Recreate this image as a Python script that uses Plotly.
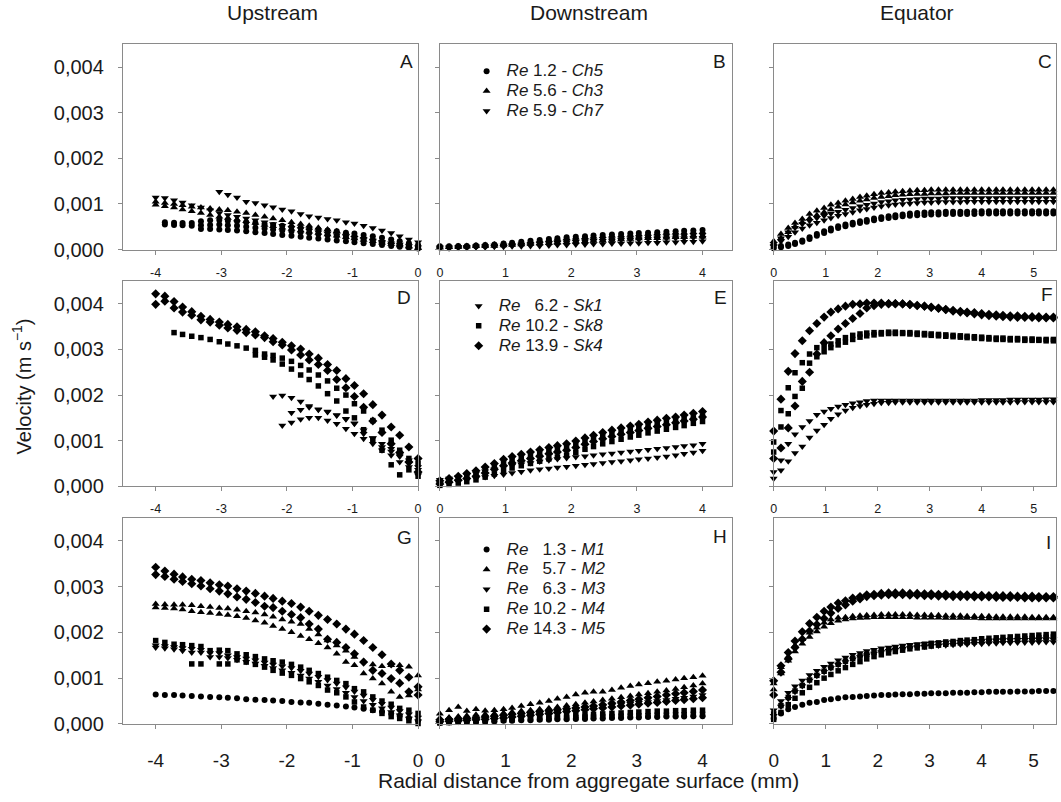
import plotly.graph_objects as go

# ---------------- x grids (mm) ----------------
X_UP = [-4.00, -3.86, -3.72, -3.59, -3.45, -3.31, -3.17, -3.03, -2.90, -2.76,
        -2.62, -2.48, -2.34, -2.21, -2.07, -1.93, -1.79, -1.66, -1.52, -1.38,
        -1.24, -1.10, -0.97, -0.83, -0.69, -0.55, -0.41, -0.28, -0.14, 0.00]
X_DN = [0.00, 0.14, 0.28, 0.41, 0.55, 0.69, 0.83, 0.97, 1.10, 1.24,
        1.38, 1.52, 1.66, 1.79, 1.93, 2.07, 2.21, 2.34, 2.48, 2.62,
        2.76, 2.90, 3.03, 3.17, 3.31, 3.45, 3.59, 3.72, 3.86, 4.00]
X_EQ = [0.00, 0.14, 0.28, 0.41, 0.55, 0.69, 0.83, 0.97, 1.10, 1.24,
        1.38, 1.52, 1.66, 1.79, 1.93, 2.07, 2.21, 2.34, 2.48, 2.62,
        2.76, 2.90, 3.03, 3.17, 3.31, 3.45, 3.59, 3.72, 3.86, 4.00,
        4.14, 4.28, 4.41, 4.55, 4.69, 4.83, 4.97, 5.10, 5.24, 5.38]

# ---------------- velocities (x 0.001 m/s) ----------------
# Panel A (upstream, Ch)
A_CH5_1 = [None, 0.60, 0.59, 0.58, 0.58, 0.62, 0.64, 0.65, 0.63, 0.62, 0.60, 0.58, 0.56, 0.54, 0.52,
           0.50, 0.48, 0.46, 0.44, 0.42, 0.40, 0.37, 0.35, 0.32, 0.29, 0.26, 0.22, 0.18, 0.14, 0.10]
A_CH5_2 = [None, 0.55, 0.54, 0.53, 0.52, 0.53, 0.54, 0.55, 0.53, 0.52, 0.50, 0.48, 0.46, 0.44, 0.42,
           0.40, 0.38, 0.36, 0.34, 0.32, 0.30, 0.27, 0.25, 0.22, 0.19, 0.16, 0.13, 0.10, 0.07, 0.05]
A_CH5_3 = [None, None, None, None, None, 0.45, 0.45, 0.44, 0.43, 0.42, 0.40, 0.38, 0.36, 0.34, 0.32,
           0.30, 0.28, 0.26, 0.24, 0.22, 0.20, 0.18, 0.16, 0.14, 0.12, 0.10, 0.08, 0.06, 0.04, 0.02]
A_CH3_1 = [1.05, 1.02, 1.00, 0.97, 0.94, 0.92, 0.90, 0.88, 0.86, 0.83, 0.80, 0.76, 0.72, 0.68, 0.64,
           0.60, 0.56, 0.52, 0.48, 0.44, 0.40, 0.36, 0.32, 0.28, 0.24, 0.20, 0.16, 0.12, 0.08, 0.04]
A_CH3_2 = [0.98, 0.95, 0.92, 0.88, 0.84, 0.80, 0.76, 0.72, 0.69, 0.66, 0.62, 0.58, 0.54, 0.51, 0.48,
           0.45, 0.42, 0.39, 0.36, 0.33, 0.30, 0.27, 0.24, 0.21, 0.18, 0.15, 0.12, 0.09, 0.06, 0.03]
A_CH7_1 = [None, None, None, None, None, None, None, 1.27, 1.20, 1.14, 1.05, 1.02, 0.97, 0.93, 0.88,
           0.84, 0.78, 0.73, 0.70, 0.67, 0.64, 0.60, 0.57, 0.52, 0.47, 0.42, 0.36, 0.29, 0.22, 0.16]
A_CH7_2 = [1.14, 1.13, 1.08, 1.03, 0.97, 0.92, 0.86, 0.80, 0.76, 0.72, 0.68, 0.64, 0.60, 0.56, 0.52,
           0.48, 0.45, 0.42, 0.38, 0.35, 0.32, 0.29, 0.26, 0.23, 0.20, 0.17, 0.14, 0.11, 0.08, 0.05]

# Panel B (downstream, Ch)
B_CH5_1 = [0.07, 0.07, 0.08, 0.08, 0.09, 0.10, 0.11, 0.13, 0.15, 0.17, 0.19, 0.21, 0.23, 0.25, 0.27,
           0.28, 0.29, 0.31, 0.32, 0.33, 0.34, 0.35, 0.36, 0.37, 0.38, 0.39, 0.40, 0.41, 0.42, 0.43]
B_CH5_2 = [0.05, 0.05, 0.06, 0.06, 0.07, 0.08, 0.09, 0.10, 0.11, 0.12, 0.14, 0.15, 0.17, 0.18, 0.19,
           0.20, 0.21, 0.22, 0.23, 0.24, 0.25, 0.26, 0.27, 0.28, 0.29, 0.30, 0.31, 0.32, 0.33, 0.34]
B_CH3_1 = [0.06, 0.06, 0.07, 0.08, 0.09, 0.10, 0.11, 0.12, 0.13, 0.15, 0.17, 0.19, 0.21, 0.23, 0.25,
           0.26, 0.27, 0.28, 0.29, 0.30, 0.31, 0.32, 0.33, 0.34, 0.35, 0.36, 0.37, 0.37, 0.38, 0.38]
B_CH3_2 = [0.04, 0.05, 0.05, 0.06, 0.07, 0.07, 0.08, 0.09, 0.10, 0.11, 0.12, 0.13, 0.14, 0.15, 0.16,
           0.17, 0.18, 0.19, 0.20, 0.21, 0.22, 0.23, 0.24, 0.25, 0.25, 0.26, 0.27, 0.27, 0.28, 0.28]
B_CH7_1 = [0.05, 0.05, 0.06, 0.06, 0.07, 0.08, 0.09, 0.09, 0.10, 0.11, 0.12, 0.13, 0.14, 0.15, 0.16,
           0.17, 0.18, 0.19, 0.19, 0.20, 0.21, 0.22, 0.22, 0.23, 0.24, 0.24, 0.25, 0.25, 0.26, 0.26]
B_CH7_2 = [0.03, 0.03, 0.04, 0.04, 0.05, 0.05, 0.06, 0.06, 0.07, 0.07, 0.08, 0.08, 0.09, 0.10, 0.10,
           0.11, 0.11, 0.12, 0.12, 0.13, 0.13, 0.14, 0.14, 0.15, 0.15, 0.16, 0.16, 0.17, 0.17, 0.18]

# Panel C (equator, Ch)
C_CH3_1 = [0.18, 0.34, 0.47, 0.58, 0.67, 0.78, 0.85, 0.91, 0.98, 1.02, 1.07, 1.11, 1.15, 1.18, 1.21,
           1.24, 1.25, 1.27, 1.28, 1.29, 1.30, 1.30, 1.31, 1.31, 1.31, 1.31, 1.31, 1.31, 1.31, 1.31,
           1.31, 1.31, 1.31, 1.31, 1.31, 1.31, 1.31, 1.31, 1.31, 1.31]
C_CH3_2 = [0.12, 0.25, 0.38, 0.50, 0.60, 0.68, 0.75, 0.82, 0.88, 0.94, 0.99, 1.03, 1.07, 1.10, 1.13,
           1.15, 1.17, 1.19, 1.20, 1.21, 1.22, 1.22, 1.23, 1.23, 1.23, 1.24, 1.24, 1.24, 1.24, 1.24,
           1.24, 1.24, 1.24, 1.24, 1.24, 1.24, 1.24, 1.24, 1.24, 1.24]
C_CH7_1 = [0.12, 0.25, 0.38, 0.48, 0.56, 0.63, 0.69, 0.74, 0.79, 0.83, 0.87, 0.91, 0.95, 0.98, 1.01,
           1.04, 1.06, 1.08, 1.09, 1.10, 1.11, 1.12, 1.12, 1.12, 1.13, 1.13, 1.13, 1.13, 1.13, 1.13,
           1.13, 1.13, 1.13, 1.13, 1.13, 1.13, 1.13, 1.13, 1.13, 1.13]
C_CH7_2 = [0.08, 0.18, 0.28, 0.38, 0.46, 0.53, 0.59, 0.64, 0.69, 0.74, 0.78, 0.82, 0.86, 0.89, 0.92,
           0.95, 0.97, 0.99, 1.00, 1.01, 1.02, 1.03, 1.03, 1.04, 1.04, 1.04, 1.04, 1.05, 1.05, 1.05,
           1.05, 1.05, 1.05, 1.05, 1.05, 1.05, 1.05, 1.05, 1.05, 1.05]
C_CH5_1 = [0.06, 0.08, 0.11, 0.15, 0.20, 0.27, 0.34, 0.40, 0.46, 0.51, 0.55, 0.59, 0.62, 0.65, 0.68,
           0.71, 0.73, 0.75, 0.77, 0.79, 0.80, 0.81, 0.82, 0.82, 0.83, 0.83, 0.83, 0.83, 0.84, 0.84,
           0.84, 0.84, 0.84, 0.84, 0.84, 0.84, 0.84, 0.84, 0.84, 0.84]
C_CH5_2 = [0.03, 0.05, 0.08, 0.12, 0.17, 0.23, 0.30, 0.36, 0.42, 0.47, 0.51, 0.55, 0.58, 0.61, 0.64,
           0.67, 0.69, 0.71, 0.73, 0.74, 0.75, 0.76, 0.77, 0.77, 0.78, 0.78, 0.78, 0.78, 0.78, 0.79,
           0.79, 0.79, 0.79, 0.79, 0.79, 0.79, 0.79, 0.79, 0.79, 0.79]

# Panel D (upstream, Sk)
D_SK4_1 = [4.22, 4.17, 4.05, 3.93, 3.83, 3.73, 3.66, 3.60, 3.55, 3.50, 3.44, 3.39, 3.30, 3.24, 3.16,
           3.08, 3.01, 2.90, 2.81, 2.67, 2.54, 2.36, 2.21, 2.03, 1.79, 1.56, 1.30, 1.12, 0.86, 0.61]
D_SK4_2 = [3.99, 4.06, 3.91, 3.82, 3.75, 3.65, 3.60, 3.53, 3.47, 3.42, 3.37, 3.32, 3.26, 3.17, 3.10,
           2.99, 2.88, 2.77, 2.67, 2.54, 2.34, 2.16, 1.97, 1.73, 1.43, 1.18, 0.93, 0.74, 0.53, 0.31]
D_SK8_1 = [None, None, 3.37, 3.33, 3.29, 3.26, 3.22, 3.17, 3.12, 3.08, 3.03, 2.98, 2.90, 2.87, 2.81,
           2.74, 2.65, 2.55, 2.44, 2.31, 2.15, 2.00, 1.81, 1.65, 1.44, 1.23, 1.01, 0.79, 0.61, 0.50]
D_SK8_2 = [None, None, None, None, None, None, None, None, None, None, None, 2.88, 2.83, 2.77, 2.68,
           2.57, 2.44, 2.34, 2.20, 2.03, 1.87, 1.65, 1.50, 1.24, 1.01, 0.79, 0.47, 0.25, 0.36, 0.22]
D_SK1_1 = [None, None, None, None, None, None, None, None, None, None, None, None, None, 1.97, 1.99,
           1.94, 1.86, 1.76, 1.69, 1.64, 1.55, 1.48, 1.38, 1.23, 1.05, 0.86, 0.76, 0.65, 0.50, 0.36]
D_SK1_2 = [None, None, None, None, None, None, None, None, None, None, None, None, None, None, None,
           1.61, 1.68, 1.73, 1.68, 1.63, 1.56, 1.47, 1.37, 1.15, 1.06, 0.93, 0.82, 0.68, 0.57, 0.42]
D_SK1_3 = [None, None, None, None, None, None, None, None, None, None, None, None, None, None, 1.33,
           1.40, 1.47, 1.50, 1.50, 1.44, 1.37, 1.26, 1.15, 1.04, 0.93, 0.79, 0.68, 0.53, 0.42, 0.24]

# Panel E (downstream, Sk)
E_SK4_1 = [0.12, 0.17, 0.22, 0.28, 0.34, 0.42, 0.50, 0.59, 0.65, 0.70, 0.75, 0.80, 0.85, 0.89, 0.93,
           0.99, 1.06, 1.12, 1.18, 1.23, 1.28, 1.32, 1.36, 1.41, 1.45, 1.49, 1.52, 1.56, 1.60, 1.64]
E_SK4_2 = [0.05, 0.09, 0.13, 0.17, 0.22, 0.29, 0.37, 0.45, 0.51, 0.56, 0.61, 0.66, 0.71, 0.75, 0.79,
           0.85, 0.92, 0.98, 1.04, 1.09, 1.14, 1.18, 1.22, 1.27, 1.31, 1.35, 1.39, 1.43, 1.47, 1.52]
E_SK8_1 = [0.09, 0.13, 0.17, 0.22, 0.27, 0.34, 0.42, 0.50, 0.56, 0.61, 0.66, 0.71, 0.76, 0.80, 0.84,
           0.90, 0.97, 1.03, 1.09, 1.14, 1.19, 1.23, 1.27, 1.32, 1.36, 1.40, 1.43, 1.46, 1.50, 1.54]
E_SK8_2 = [0.02, 0.04, 0.07, 0.10, 0.14, 0.20, 0.27, 0.34, 0.40, 0.45, 0.50, 0.55, 0.60, 0.64, 0.68,
           0.74, 0.81, 0.87, 0.93, 0.98, 1.03, 1.08, 1.12, 1.17, 1.21, 1.25, 1.29, 1.33, 1.38, 1.42]
E_SK1_1 = [0.14, 0.17, 0.20, 0.24, 0.28, 0.33, 0.37, 0.41, 0.45, 0.48, 0.51, 0.54, 0.57, 0.60, 0.62,
           0.64, 0.66, 0.68, 0.70, 0.72, 0.74, 0.76, 0.78, 0.80, 0.82, 0.84, 0.86, 0.88, 0.90, 0.93]
E_SK1_2 = [0.05, 0.08, 0.11, 0.14, 0.17, 0.20, 0.23, 0.26, 0.29, 0.32, 0.35, 0.37, 0.39, 0.41, 0.43,
           0.45, 0.47, 0.49, 0.51, 0.53, 0.55, 0.57, 0.59, 0.61, 0.63, 0.65, 0.68, 0.71, 0.74, 0.78]

# Panel F (equator, Sk)
F_SK4_1 = [1.21, 1.91, 2.52, 2.91, 3.19, 3.41, 3.57, 3.71, 3.82, 3.89, 3.95, 3.99, 4.00, 4.02, 4.02,
           4.02, 4.01, 4.01, 4.00, 3.98, 3.96, 3.95, 3.93, 3.91, 3.88, 3.86, 3.84, 3.82, 3.81, 3.79,
           3.77, 3.76, 3.75, 3.74, 3.74, 3.73, 3.72, 3.72, 3.71, 3.71]
F_SK4_2 = [0.61, 0.84, 1.28, 1.76, 2.30, 2.50, 2.90, 3.15, 3.30, 3.45, 3.57, 3.68, 3.79, 3.91, 3.96,
           3.99, 4.00, 4.00, 4.00, 3.99, 3.97, 3.95, 3.92, 3.90, 3.87, 3.84, 3.82, 3.80, 3.78, 3.76,
           3.74, 3.73, 3.72, 3.71, 3.70, 3.70, 3.70, 3.69, 3.69, 3.69]
F_SK8_1 = [0.97, 1.66, 2.16, 2.49, 2.71, 2.90, 3.04, 3.07, 3.12, 3.19, 3.26, 3.31, 3.34, 3.36, 3.37,
           3.37, 3.38, 3.38, 3.37, 3.37, 3.36, 3.35, 3.34, 3.33, 3.32, 3.31, 3.30, 3.29, 3.28, 3.27,
           3.26, 3.25, 3.25, 3.24, 3.24, 3.23, 3.23, 3.22, 3.22, 3.22]
F_SK8_2 = [0.75, 1.30, 1.59, 1.97, 2.15, 2.70, 2.84, 2.95, 3.04, 3.10, 3.16, 3.22, 3.27, 3.30, 3.32,
           3.34, 3.35, 3.35, 3.35, 3.34, 3.33, 3.32, 3.31, 3.30, 3.29, 3.28, 3.27, 3.26, 3.25, 3.24,
           3.23, 3.22, 3.22, 3.21, 3.21, 3.20, 3.20, 3.20, 3.19, 3.19]
F_SK1_1 = [0.31, 0.57, 0.93, 1.14, 1.30, 1.43, 1.57, 1.64, 1.70, 1.75, 1.79, 1.82, 1.84, 1.87, 1.88,
           1.88, 1.88, 1.88, 1.88, 1.88, 1.88, 1.88, 1.88, 1.88, 1.88, 1.88, 1.88, 1.88, 1.88, 1.89,
           1.89, 1.89, 1.89, 1.90, 1.90, 1.90, 1.90, 1.90, 1.91, 1.91]
F_SK1_2 = [0.17, 0.35, 0.55, 0.73, 0.87, 1.07, 1.22, 1.35, 1.48, 1.58, 1.66, 1.72, 1.76, 1.79, 1.81,
           1.83, 1.83, 1.84, 1.84, 1.84, 1.84, 1.84, 1.84, 1.84, 1.84, 1.84, 1.84, 1.84, 1.84, 1.84,
           1.84, 1.84, 1.84, 1.84, 1.85, 1.85, 1.85, 1.85, 1.85, 1.85]

# Panel G (upstream, M)
G_M5_1 = [3.42, 3.34, 3.27, 3.21, 3.16, 3.13, 3.08, 3.04, 3.01, 2.95, 2.90, 2.85, 2.79, 2.74, 2.68,
          2.63, 2.55, 2.46, 2.37, 2.28, 2.18, 2.07, 1.96, 1.82, 1.67, 1.51, 1.31, 1.17, 1.02, 0.81]
G_M5_2 = [3.26, 3.22, 3.16, 3.11, 3.06, 3.01, 2.95, 2.90, 2.84, 2.77, 2.72, 2.65, 2.57, 2.54, 2.46,
          2.39, 2.32, 2.18, 2.07, 1.85, 1.78, 1.67, 1.53, 1.35, 1.17, 1.10, 0.99, 0.89, 0.70, 0.63]
G_M2_1 = [2.62, 2.61, 2.60, 2.60, 2.59, 2.57, 2.55, 2.53, 2.52, 2.49, 2.46, 2.43, 2.39, 2.34, 2.28,
          2.23, 2.18, 2.07, 1.95, 1.82, 1.71, 1.60, 1.46, 1.37, 1.30, 1.26, 1.28, 1.28, 1.25, 1.06]
G_M2_2 = [2.54, 2.53, 2.52, 2.50, 2.46, 2.44, 2.42, 2.40, 2.38, 2.35, 2.31, 2.26, 2.21, 2.14, 2.07,
          2.00, 1.92, 1.85, 1.76, 1.67, 1.53, 1.35, 1.28, 1.10, 0.99, 0.88, 0.70, 0.59, 0.62, 0.75]
G_M4_1 = [1.82, 1.78, 1.74, 1.73, 1.71, 1.69, 1.60, 1.61, 1.60, 1.53, 1.51, 1.47, 1.42, 1.38, 1.35,
          1.30, 1.24, 1.17, 1.10, 1.02, 0.95, 0.88, 0.77, 0.70, 0.59, 0.50, 0.43, 0.34, 0.30, 0.23]
G_M4_2 = [None, None, None, None, 1.31, 1.31, None, 1.31, 1.31, 1.40, 1.35, 1.30, 1.24, 1.17, 1.11,
          1.06, 0.99, 0.92, 0.84, 0.74, 0.68, 0.59, 0.48, 0.37, 0.30, 0.23, 0.16, 0.12, 0.07, 0.01]
G_M3_1 = [1.72, 1.70, 1.68, 1.66, 1.64, 1.62, 1.55, 1.55, 1.50, 1.46, 1.43, 1.39, 1.34, 1.30, 1.26,
          1.22, 1.16, 1.10, 1.03, 0.96, 0.88, 0.80, 0.71, 0.62, 0.53, 0.44, 0.36, 0.28, 0.21, 0.14]
G_M3_2 = [1.67, 1.65, 1.63, 1.60, 1.56, 1.56, 1.46, 1.46, 1.44, 1.40, 1.36, 1.32, 1.27, 1.22, 1.17,
          1.12, 1.06, 0.99, 0.92, 0.84, 0.76, 0.68, 0.59, 0.50, 0.42, 0.34, 0.26, 0.19, 0.12, 0.06]
G_M1_1 = [0.64, 0.63, 0.63, 0.62, 0.61, 0.60, 0.59, 0.58, 0.57, 0.56, 0.54, 0.53, 0.52, 0.51, 0.50,
          0.48, 0.47, 0.46, 0.44, 0.42, 0.40, 0.38, 0.36, 0.33, 0.30, 0.27, 0.23, 0.18, 0.13, 0.08]

# Panel H (downstream, M)
H_M2_1 = [0.22, 0.30, 0.37, 0.28, 0.32, 0.29, 0.30, 0.32, 0.35, 0.39, 0.43, 0.46, 0.50, 0.55, 0.59,
          0.64, 0.68, 0.70, 0.70, 0.74, 0.79, 0.83, 0.86, 0.89, 0.92, 0.94, 0.97, 1.00, 1.02, 1.05]
H_M2_2 = [0.12, 0.14, 0.16, 0.18, 0.20, 0.21, 0.22, 0.24, 0.26, 0.28, 0.30, 0.32, 0.34, 0.37, 0.40,
          0.43, 0.46, 0.49, 0.52, 0.55, 0.58, 0.61, 0.64, 0.67, 0.70, 0.73, 0.76, 0.80, 0.84, 0.88]
H_M5_1 = [0.09, 0.10, 0.11, 0.12, 0.13, 0.15, 0.17, 0.19, 0.21, 0.23, 0.25, 0.27, 0.29, 0.31, 0.33,
          0.35, 0.37, 0.39, 0.42, 0.45, 0.48, 0.51, 0.54, 0.57, 0.60, 0.63, 0.66, 0.68, 0.71, 0.74]
H_M5_2 = [0.05, 0.06, 0.07, 0.08, 0.09, 0.10, 0.12, 0.13, 0.15, 0.17, 0.19, 0.21, 0.23, 0.25, 0.27,
          0.29, 0.31, 0.33, 0.35, 0.37, 0.39, 0.41, 0.43, 0.45, 0.47, 0.49, 0.51, 0.53, 0.55, 0.57]
H_M3_1 = [0.07, 0.08, 0.09, 0.10, 0.12, 0.13, 0.15, 0.16, 0.18, 0.20, 0.22, 0.24, 0.26, 0.28, 0.30,
          0.32, 0.34, 0.36, 0.38, 0.40, 0.42, 0.44, 0.46, 0.48, 0.50, 0.52, 0.55, 0.57, 0.60, 0.63]
H_M4_1 = [0.04, 0.05, 0.06, 0.07, 0.08, 0.09, 0.10, 0.11, 0.12, 0.13, 0.14, 0.15, 0.16, 0.17, 0.18,
          0.19, 0.20, 0.21, 0.22, 0.23, 0.24, 0.25, 0.26, 0.27, 0.28, 0.28, 0.29, 0.29, 0.30, 0.30]
H_M4_2 = [0.02, 0.03, 0.04, 0.05, 0.06, 0.06, 0.07, 0.08, 0.09, 0.10, 0.10, 0.11, 0.12, 0.13, 0.13,
          0.14, 0.15, 0.15, 0.16, 0.16, 0.17, 0.17, 0.18, 0.18, 0.19, 0.19, 0.20, 0.20, 0.21, 0.21]
H_M1_1 = [0.03, 0.04, 0.04, 0.05, 0.05, 0.06, 0.06, 0.07, 0.07, 0.08, 0.08, 0.09, 0.09, 0.10, 0.10,
          0.11, 0.11, 0.12, 0.12, 0.13, 0.13, 0.14, 0.14, 0.15, 0.15, 0.16, 0.16, 0.16, 0.17, 0.17]

# Panel I (equator, M)
I_M5_1 = [0.94, 1.27, 1.56, 1.81, 2.01, 2.19, 2.33, 2.46, 2.55, 2.64, 2.69, 2.75, 2.78, 2.82, 2.83,
          2.85, 2.86, 2.86, 2.86, 2.85, 2.85, 2.84, 2.84, 2.83, 2.83, 2.82, 2.82, 2.82, 2.81, 2.81,
          2.80, 2.80, 2.80, 2.80, 2.79, 2.79, 2.79, 2.78, 2.78, 2.78]
I_M5_2 = [0.63, 1.13, 1.42, 1.67, 1.85, 2.03, 2.17, 2.30, 2.42, 2.52, 2.60, 2.68, 2.73, 2.78, 2.80,
          2.81, 2.82, 2.82, 2.82, 2.81, 2.81, 2.80, 2.80, 2.79, 2.79, 2.78, 2.78, 2.78, 2.77, 2.77,
          2.77, 2.76, 2.76, 2.76, 2.76, 2.75, 2.75, 2.75, 2.75, 2.75]
I_M2_1 = [0.88, 1.24, 1.47, 1.71, 1.85, 1.99, 2.10, 2.21, 2.28, 2.32, 2.33, 2.35, 2.36, 2.37, 2.38,
          2.39, 2.39, 2.39, 2.39, 2.39, 2.38, 2.38, 2.37, 2.37, 2.36, 2.36, 2.36, 2.35, 2.35, 2.35,
          2.35, 2.34, 2.34, 2.34, 2.34, 2.34, 2.33, 2.33, 2.33, 2.33]
I_M2_2 = [0.75, 1.10, 1.38, 1.58, 1.75, 1.90, 2.02, 2.12, 2.20, 2.25, 2.28, 2.30, 2.31, 2.32, 2.33,
          2.33, 2.33, 2.33, 2.33, 2.33, 2.32, 2.32, 2.32, 2.32, 2.31, 2.31, 2.31, 2.31, 2.31, 2.30,
          2.30, 2.30, 2.30, 2.30, 2.30, 2.30, 2.30, 2.30, 2.30, 2.30]
I_M4_1 = [0.22, 0.40, 0.58, 0.72, 0.84, 0.96, 1.06, 1.15, 1.23, 1.30, 1.37, 1.43, 1.48, 1.52, 1.56,
          1.60, 1.63, 1.66, 1.68, 1.70, 1.72, 1.74, 1.76, 1.77, 1.79, 1.80, 1.82, 1.83, 1.84, 1.86,
          1.87, 1.88, 1.89, 1.90, 1.91, 1.92, 1.93, 1.94, 1.95, 1.96]
I_M4_2 = [0.10, 0.25, 0.42, 0.56, 0.68, 0.80, 0.90, 1.00, 1.08, 1.16, 1.23, 1.30, 1.36, 1.42, 1.47,
          1.51, 1.55, 1.58, 1.61, 1.64, 1.66, 1.68, 1.70, 1.72, 1.74, 1.75, 1.77, 1.78, 1.79, 1.80,
          1.81, 1.82, 1.83, 1.84, 1.85, 1.86, 1.87, 1.88, 1.89, 1.90]
I_M3_1 = [0.30, 0.50, 0.68, 0.82, 0.95, 1.07, 1.16, 1.25, 1.32, 1.39, 1.45, 1.51, 1.55, 1.59, 1.62,
          1.65, 1.67, 1.69, 1.71, 1.73, 1.74, 1.75, 1.76, 1.77, 1.78, 1.79, 1.80, 1.80, 1.81, 1.81,
          1.82, 1.82, 1.83, 1.83, 1.84, 1.84, 1.84, 1.85, 1.85, 1.85]
I_M3_2 = [0.18, 0.38, 0.55, 0.70, 0.83, 0.95, 1.05, 1.14, 1.22, 1.29, 1.35, 1.41, 1.46, 1.50, 1.54,
          1.57, 1.60, 1.62, 1.64, 1.66, 1.68, 1.69, 1.70, 1.71, 1.72, 1.73, 1.74, 1.74, 1.75, 1.75,
          1.76, 1.76, 1.77, 1.77, 1.78, 1.78, 1.78, 1.79, 1.79, 1.79]
I_M1_1 = [0.12, 0.23, 0.32, 0.37, 0.42, 0.46, 0.48, 0.52, 0.54, 0.56, 0.58, 0.59, 0.60, 0.61, 0.62,
          0.63, 0.63, 0.64, 0.65, 0.65, 0.66, 0.66, 0.67, 0.67, 0.67, 0.68, 0.68, 0.68, 0.69, 0.69,
          0.70, 0.70, 0.70, 0.70, 0.71, 0.71, 0.71, 0.72, 0.72, 0.72]

# ---------------- legend labels ----------------
NB = "\u00a0"
LBL_CH5 = "<i>Re</i> 1.2 - <i>Ch5</i>"
LBL_CH3 = "<i>Re</i> 5.6 - <i>Ch3</i>"
LBL_CH7 = "<i>Re</i> 5.9 - <i>Ch7</i>"
LBL_SK1 = "<i>Re</i> " + NB * 2 + "6.2 - <i>Sk1</i>"
LBL_SK8 = "<i>Re</i> 10.2 - <i>Sk8</i>"
LBL_SK4 = "<i>Re</i> 13.9 - <i>Sk4</i>"
LBL_M1 = "<i>Re</i> " + NB * 2 + "1.3 - <i>M1</i>"
LBL_M2 = "<i>Re</i> " + NB * 2 + "5.7 - <i>M2</i>"
LBL_M3 = "<i>Re</i> " + NB * 2 + "6.3 - <i>M3</i>"
LBL_M4 = "<i>Re</i> 10.2 - <i>M4</i>"
LBL_M5 = "<i>Re</i> 14.3 - <i>M5</i>"

PANEL_LETTERS = ["A", "B", "C", "D", "E", "F", "G", "H", "I"]
COL_TITLES = ["Upstream", "Downstream", "Equator"]
Y_TICKS = [0.0, 0.001, 0.002, 0.003, 0.004]
Y_TICKTEXT = ["0,000", "0,001", "0,002", "0,003", "0,004"]
X_TICKS = [[-4, -3, -2, -1, 0], [0, 1, 2, 3, 4], [0, 1, 2, 3, 4, 5]]
X_TICKTEXT = [["-4", "-3", "-2", "-1", "0"], ["0", "1", "2", "3", "4"], ["0", "1", "2", "3", "4", "5"]]

# ---------------- figure ----------------
W, H = 1061, 802
FONT = "Liberation Sans, Arial, sans-serif"
GRAY = "#8a8a8a"
TXT = "#1a1a1a"
SCALE = 1e-3
SIZES = {"circle": 6, "triangle-up": 7, "triangle-down": 7, "square": 5.5, "diamond": 7}
LEG_TEXT_PX = 17


def leg_label(s):
    return f'<span style="font-size:{LEG_TEXT_PX}px">{s}</span>'


fig = go.Figure()

# (panel, x grid, profiles, symbol, label, legend id or None)
SERIES = [
    (0, X_UP, [A_CH5_1, A_CH5_2, A_CH5_3], "circle", LBL_CH5, None),
    (0, X_UP, [A_CH3_1, A_CH3_2], "triangle-up", LBL_CH3, None),
    (0, X_UP, [A_CH7_1, A_CH7_2], "triangle-down", LBL_CH7, None),
    (1, X_DN, [B_CH5_1, B_CH5_2], "circle", LBL_CH5, "legend"),
    (1, X_DN, [B_CH3_1, B_CH3_2], "triangle-up", LBL_CH3, "legend"),
    (1, X_DN, [B_CH7_1, B_CH7_2], "triangle-down", LBL_CH7, "legend"),
    (2, X_EQ, [C_CH5_1, C_CH5_2], "circle", LBL_CH5, None),
    (2, X_EQ, [C_CH3_1, C_CH3_2], "triangle-up", LBL_CH3, None),
    (2, X_EQ, [C_CH7_1, C_CH7_2], "triangle-down", LBL_CH7, None),
    (3, X_UP, [D_SK1_1, D_SK1_2, D_SK1_3], "triangle-down", LBL_SK1, None),
    (3, X_UP, [D_SK8_1, D_SK8_2], "square", LBL_SK8, None),
    (3, X_UP, [D_SK4_1, D_SK4_2], "diamond", LBL_SK4, None),
    (4, X_DN, [E_SK1_1, E_SK1_2], "triangle-down", LBL_SK1, "legend2"),
    (4, X_DN, [E_SK8_1, E_SK8_2], "square", LBL_SK8, "legend2"),
    (4, X_DN, [E_SK4_1, E_SK4_2], "diamond", LBL_SK4, "legend2"),
    (5, X_EQ, [F_SK1_1, F_SK1_2], "triangle-down", LBL_SK1, None),
    (5, X_EQ, [F_SK8_1, F_SK8_2], "square", LBL_SK8, None),
    (5, X_EQ, [F_SK4_1, F_SK4_2], "diamond", LBL_SK4, None),
    (6, X_UP, [G_M1_1], "circle", LBL_M1, None),
    (6, X_UP, [G_M2_1, G_M2_2], "triangle-up", LBL_M2, None),
    (6, X_UP, [G_M3_1, G_M3_2], "triangle-down", LBL_M3, None),
    (6, X_UP, [G_M4_1, G_M4_2], "square", LBL_M4, None),
    (6, X_UP, [G_M5_1, G_M5_2], "diamond", LBL_M5, None),
    (7, X_DN, [H_M1_1], "circle", LBL_M1, "legend3"),
    (7, X_DN, [H_M2_1, H_M2_2], "triangle-up", LBL_M2, "legend3"),
    (7, X_DN, [H_M3_1], "triangle-down", LBL_M3, "legend3"),
    (7, X_DN, [H_M4_1, H_M4_2], "square", LBL_M4, "legend3"),
    (7, X_DN, [H_M5_1, H_M5_2], "diamond", LBL_M5, "legend3"),
    (8, X_EQ, [I_M1_1], "circle", LBL_M1, None),
    (8, X_EQ, [I_M2_1, I_M2_2], "triangle-up", LBL_M2, None),
    (8, X_EQ, [I_M3_1, I_M3_2], "triangle-down", LBL_M3, None),
    (8, X_EQ, [I_M4_1, I_M4_2], "square", LBL_M4, None),
    (8, X_EQ, [I_M5_1, I_M5_2], "diamond", LBL_M5, None),
]

for panel, xs, profiles, sym, label, leg in SERIES:
    n = panel + 1
    sfx = "" if n == 1 else str(n)
    for k, prof in enumerate(profiles):
        fig.add_trace(go.Scatter(
            x=xs, y=[None if v is None else v * SCALE for v in prof],
            mode="markers",
            marker=dict(symbol=sym, size=SIZES[sym], color="black", line=dict(width=0)),
            xaxis="x" + sfx, yaxis="y" + sfx,
            name=leg_label(label), legendgroup=f"{label}-{panel}",
            showlegend=(leg is not None and k == 0),
            legend=leg if leg is not None else "legend",
            cliponaxis=False, hoverinfo="x+y",
        ))

COLS_PX = [(119, 417), (439, 734), (776, 1061)]
ROWS_PX = [(45, 253), (285, 493), (525, 734)]
X_RANGES = [[-4.5, 0], [0, 4.45], [0, 5.43]]

layout = dict(
    width=W, height=H, margin=dict(l=0, r=0, t=0, b=0),
    paper_bgcolor="white", plot_bgcolor="white",
    font=dict(family=FONT, color=TXT),
    showlegend=True,
)

annotations = []
for r in range(3):
    for c in range(3):
        n = r * 3 + c + 1
        sfx = "" if n == 1 else str(n)
        x0, x1 = COLS_PX[c]
        y0, y1 = ROWS_PX[r]
        layout["xaxis" + sfx] = dict(
            domain=[x0 / W, min(x1 / W, 1.0)], range=X_RANGES[c], anchor="y" + sfx,
            tickmode="array", tickvals=X_TICKS[c], ticktext=X_TICKTEXT[c],
            ticks="outside", ticklen=4, tickcolor=GRAY, showline=True, linecolor=GRAY,
            linewidth=1, mirror=True, showgrid=False, zeroline=False,
            tickfont=dict(size=19 if r == 2 else 12.5, color=TXT, family=FONT),
            ticklabelstandoff=15 if r == 2 else 7,
        )
        layout["yaxis" + sfx] = dict(
            domain=[1 - y1 / H, 1 - y0 / H], range=[0, 0.0045], anchor="x" + sfx,
            tickmode="array", tickvals=Y_TICKS, ticktext=Y_TICKTEXT,
            showticklabels=(c == 0),
            ticks="outside", ticklen=4, tickcolor=GRAY, showline=True, linecolor=GRAY,
            linewidth=1, mirror=True, showgrid=False, zeroline=False,
            tickfont=dict(size=20, color=TXT, family=FONT),
            ticklabelstandoff=10,
        )

# panel letters
LETTER_POS = [(405, 62), (721, 62), (1050, 62), (403, 302), (722, 302), (1052, 299),
              (403, 545), (722, 544), (1053, 550)]
for letter, (px, py) in zip(PANEL_LETTERS, LETTER_POS):
    annotations.append(dict(text=letter, x=px / W, y=1 - py / H, xref="paper", yref="paper",
                            xanchor="center", yanchor="middle", showarrow=False,
                            font=dict(size=19, family=FONT, color=TXT)))

# column titles
for title, px in zip(COL_TITLES, [270, 590, 921]):
    annotations.append(dict(text=title, x=px / W, y=1 - 13 / H, xref="paper", yref="paper",
                            xanchor="center", yanchor="middle", showarrow=False,
                            font=dict(size=21, family=FONT, color=TXT)))

# axis titles
annotations.append(dict(text="Velocity (m s<sup>\u22121</sup>)", x=17 / W, y=1 - 392 / H,
                        xref="paper", yref="paper", xanchor="center", yanchor="middle",
                        textangle=-90, showarrow=False,
                        font=dict(size=20, family=FONT, color=TXT)))
annotations.append(dict(text="Radial distance from aggregate surface (mm)", x=589 / W, y=1 - 791 / H,
                        xref="paper", yref="paper", xanchor="center", yanchor="middle",
                        showarrow=False, borderpad=0,
                        font=dict(size=21, family=FONT, color=TXT)))
layout["annotations"] = annotations

LEG_COMMON = dict(bgcolor="rgba(0,0,0,0)", borderwidth=0, xanchor="left", yanchor="top",
                  font=dict(size=13, family=FONT, color=TXT), tracegroupgap=0,
                  itemclick=False, itemdoubleclick=False, traceorder="normal")
layout["legend"] = dict(x=466 / W, y=1 - 57 / H, **LEG_COMMON)
layout["legend2"] = dict(x=458 / W, y=1 - 295 / H, **LEG_COMMON)
layout["legend3"] = dict(x=466 / W, y=1 - 542 / H, **LEG_COMMON)

fig.update_layout(**layout)
fig.write_html(
    "out.html",
    config={"displayModeBar": False},
    post_script="document.body.style.margin='0';document.body.style.overflow='hidden';",
)
